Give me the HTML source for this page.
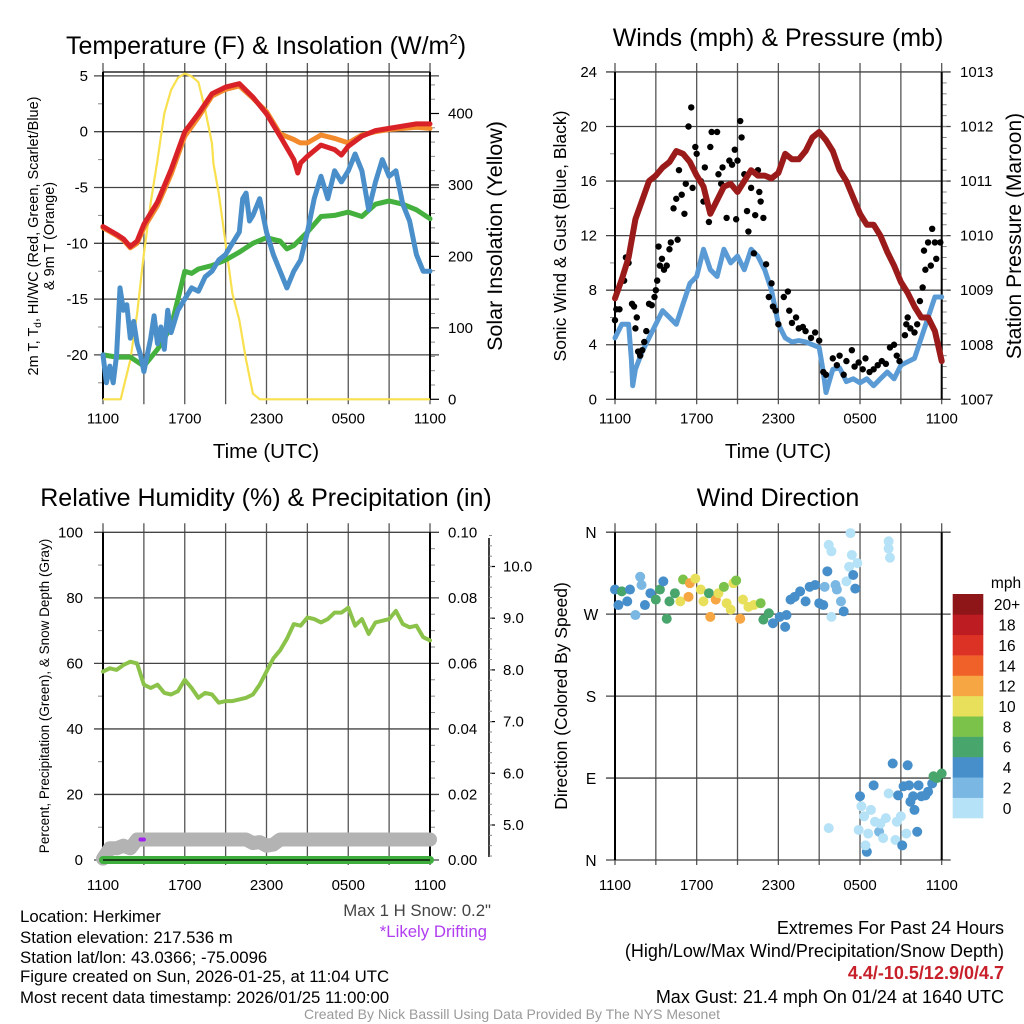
<!DOCTYPE html>
<html><head><meta charset="utf-8">
<style>
html,body{margin:0;padding:0;background:#fff;}
svg{display:block;font-family:"Liberation Sans",Arial,sans-serif;}
</style></head>
<body>
<svg id="fig" width="1024" height="1024" viewBox="0 0 1024 1024" xmlns="http://www.w3.org/2000/svg">
<g id="tl"></g>
<g id="tr"></g>
<g id="bl"></g>
<g id="br"></g>

<text x="266" y="54" font-size="25" text-anchor="middle">Temperature (F) &amp; Insolation (W/m<tspan font-size="15" dy="-10">2</tspan><tspan dy="10">)</tspan></text>
<text x="778" y="46" font-size="25" text-anchor="middle">Winds (mph) &amp; Pressure (mb)</text>
<text x="266" y="506" font-size="25" text-anchor="middle">Relative Humidity (%) &amp; Precipitation (in)</text>
<text x="778" y="506" font-size="25" text-anchor="middle">Wind Direction</text>

<text x="266" y="458" font-size="20.5" text-anchor="middle">Time (UTC)</text>
<text x="778" y="458" font-size="20.5" text-anchor="middle">Time (UTC)</text>

<g font-size="14.5" text-anchor="middle">
<text transform="translate(38,236) rotate(-90)">2m T, T<tspan font-size="10" dy="3">d</tspan><tspan dy="-3">, HI/WC (Red, Green, Scarlet/Blue)</tspan></text>
<text transform="translate(54,236) rotate(-90)">&amp; 9m T (Orange)</text>
</g>
<text transform="translate(502,236) rotate(-90)" font-size="21.5" text-anchor="middle">Solar Insolation (Yellow)</text>
<text transform="translate(566,236) rotate(-90)" font-size="17.5" text-anchor="middle">Sonic Wind &amp; Gust (Blue, Black)</text>
<text transform="translate(1021,236) rotate(-90)" font-size="21" text-anchor="middle">Station Pressure (Maroon)</text>
<text transform="translate(49,696) rotate(-90)" font-size="13.5" text-anchor="middle">Percent, Precipitation (Green), &amp; Snow Depth (Gray)</text>
<text transform="translate(567,696) rotate(-90)" font-size="17.5" text-anchor="middle">Direction (Colored By Speed)</text>

<g font-size="16.8">
<text x="20" y="922">Location: Herkimer</text>
<text x="20" y="943">Station elevation: 217.536 m</text>
<text x="20" y="963">Station lat/lon: 43.0366; -75.0096</text>
<text x="20" y="982">Figure created on Sun, 2026-01-25, at 11:04 UTC</text>
<text x="20" y="1003">Most recent data timestamp: 2026/01/25 11:00:00</text>
</g>
<text x="491" y="916" font-size="16.8" text-anchor="end" fill="#444">Max 1 H Snow: 0.2"</text>
<text x="487" y="937" font-size="16.8" text-anchor="end" fill="#b13ef0">*Likely Drifting</text>
<g font-size="18" text-anchor="end">
<text x="1004" y="934">Extremes For Past 24 Hours</text>
<text x="1004" y="957">(High/Low/Max Wind/Precipitation/Snow Depth)</text>
<text x="1004" y="979" fill="#c8202a" font-weight="bold">4.4/-10.5/12.9/0/4.7</text>
<text x="1004" y="1003">Max Gust: 21.4 mph On 01/24 at 1640 UTC</text>
</g>
<text x="512" y="1019" font-size="14" text-anchor="middle" fill="#9a9a9a">Created By Nick Bassill Using Data Provided By The NYS Mesonet</text>
</svg>
<script>
// ---------- DATA ----------
const xTickLabels = ["1100","1700","2300","0500","1100"];
const tHours = [0,1,1.5,2,2.5,3,4,5,6,7,8,9,10,11,12,13,14,14.3,14.5,15,16,17,17.5,18,19,20,21,22,23,24];
const tempRed = [-8.5,-9.2,-9.6,-10.3,-9.8,-8.3,-6.3,-3.4,0,1.6,3.4,4.0,4.3,3.1,1.6,-0.4,-2.5,-3.7,-2.8,-2.2,-1.2,-1.6,-2.1,-1.3,-0.4,0.1,0.3,0.5,0.7,0.7];
const temp9m = [-8.6,-9.3,-9.7,-10.4,-10.0,-8.6,-6.6,-3.8,-0.4,1.3,3.2,3.8,4.1,3.0,1.8,-0.2,-0.7,-0.9,-1.0,-1.0,-0.3,-0.6,-0.8,-1.0,-0.3,0.0,0.2,0.3,0.4,0.3];
const dHours = [0,1,2,3,4,5,5.5,6,6.5,7,8,9,10,11,12,13,13.5,14,15,16,17,18,19,20,21,22,23,24];
const dewpoint = [-20,-20.2,-20.2,-21,-19.5,-17.5,-15,-12.5,-12.7,-12.3,-12,-11.5,-10.8,-10,-9.5,-9.8,-10.5,-10.2,-9,-7.6,-7.5,-7.2,-7.6,-6.5,-6.2,-6.5,-7,-7.8];
const wcHours = [0,0.25,0.5,0.75,1,1.25,1.5,1.75,2,2.25,2.5,2.75,3,3.25,3.5,3.75,4,4.25,4.5,4.75,5,5.5,6,6.5,7,7.5,8,8.5,9,9.5,10,10.25,10.5,10.75,11,11.5,12,12.5,13,13.5,14,14.5,15,15.5,16,16.5,17,17.5,18,18.5,19,19.5,20,20.5,21,21.5,22,22.5,23,23.5,24];
const windChill = [-20,-22.5,-21,-22.5,-20,-14,-16,-15.5,-18.5,-17,-19,-20,-21.5,-20,-18.5,-16.5,-19,-17.5,-19.5,-16,-18,-16,-15,-14,-14.3,-13,-12.5,-11.5,-11,-10,-9,-6,-5.5,-8,-7.5,-6,-9,-11,-12.5,-14,-12.5,-11.5,-9,-6,-4,-6,-3.5,-4.5,-3.5,-2,-3.5,-7,-4.5,-2.5,-4,-3.5,-6.5,-8,-11,-12.5,-12.5];
const solarHours = [0,1.3,2,2.5,3,3.5,4,4.5,5,5.5,6,6.5,7,7.5,8,8.1,8.5,9,9.5,10,10.5,11,11.5,24];
const solar = [0,0,55,120,204,275,335,400,433,450,456,452,444,405,358,330,288,218,148,111,55,8,0,0];
const windHours = [0,0.5,1,1.2,1.3,1.5,2,2.5,3,3.5,4,4.5,5,5.5,6,6.5,7,7.5,8,8.5,9,9.5,10,10.5,11,11.5,12,12.5,13,13.5,14,14.5,15,15.3,15.5,16,16.5,17,17.5,18,18.5,19,19.5,20,20.5,21,22,22.5,23,23.5,24];
const windSpeed = [4.5,5.5,5.5,3,1,2.2,3.5,4.5,5.5,6.5,6,5.5,7,8.5,9,11,9.5,9,11,10,10.5,9.5,11,10.5,9.5,8,5.5,4.5,4.2,4.3,4.2,4,3.8,2,0.5,2.2,2.3,1.3,1.5,1.2,1.5,1,1.5,2,1.5,2.5,3,4.5,6,7.5,7.5];
const gustHours = [0,0.1,0.33,0.67,0.8,1,1.25,1.4,1.5,1.6,1.7,1.85,2,2.15,2.3,2.5,2.7,2.9,3,3.1,3.2,3.3,3.45,3.6,3.8,4,4.1,4.3,4.5,4.6,4.7,4.9,5.1,5.2,5.4,5.6,5.7,5.9,6,6.3,6.5,6.6,6.9,7,7.1,7.5,7.6,7.8,7.9,8.2,8.4,8.6,8.8,8.9,9,9.2,9.3,9.5,9.7,9.8,10,10.2,10.3,10.5,10.6,10.7,10.9,11.1,11.3,11.5,11.6,11.8,12,12.4,12.7,12.8,13,13.3,13.5,13.8,14,14.4,14.7,15,15.3,15.5,16,16.3,16.5,16.8,17,17.4,17.6,17.9,18.2,18.4,18.7,19,19.3,19.6,19.9,20.2,20.5,20.7,20.9,21.3,21.4,21.5,21.7,22,22.2,22.4,22.6,22.7,22.8,23,23.2,23.3,23.5,23.6,23.9];
const gustSpeed = [5.8,6.6,6.6,8.7,10.4,10,7,6.8,5.2,6,3.5,3.2,3.6,4.2,5,7,6.9,7.5,8,8.7,11.2,9.8,10.3,9.5,9.8,11,11.5,14,14.7,11.7,16.8,15,13.6,15.8,20,21.4,15.5,18.5,18,16,14.5,17,13,18.5,19.6,19.6,16.5,15.8,17,13.3,17.5,17.2,18.3,13.2,17.5,20.4,19.2,16.5,13.8,12.3,15.5,10.7,13.5,16.8,15.2,14.5,13.3,9.9,7.5,8.5,6.8,6.5,5.5,7.5,7.9,6.5,5.6,6,5.2,5.3,5,4.5,4.9,4.3,2,1.8,3,2.5,3.2,1.8,2.8,3.6,2.4,2.7,2.2,3,2,2.2,2.5,2.8,2.6,3.8,4,3.2,2.8,4.7,5.5,6,5.2,4.9,5.5,7.2,8.2,10.9,9.5,11.5,9.8,12.5,11.5,10.3,11.5];
const presHours = [0,0.5,1,1.5,2,2.5,3,3.5,4,4.5,5,5.5,6,6.5,7,7.5,8,8.5,9,9.5,10,10.5,11,11.5,12,12.5,13,13.5,14,14.5,15,15.5,16,16.5,17,17.5,18,18.5,19,19.5,20,20.5,21,21.5,22,22.5,23,23.5,24];
const pressure = [1008.85,1009.2,1009.6,1010.3,1010.65,1011.0,1011.1,1011.25,1011.35,1011.55,1011.5,1011.35,1011.1,1010.9,1010.4,1010.65,1010.9,1010.95,1010.8,1011.0,1011.2,1011.1,1011.1,1011.05,1011.15,1011.5,1011.4,1011.4,1011.55,1011.8,1011.9,1011.75,1011.55,1011.2,1011.0,1010.7,1010.4,1010.2,1010.2,1010.0,1009.7,1009.45,1009.15,1008.95,1008.7,1008.5,1008.5,1008.25,1007.7];
const rhHours = presHours;
const humidity = [57.5,58.5,58,59.5,60.5,60,53.5,52.5,53.5,51,50.5,51.5,55,52.5,49.5,51,50.5,48,48.5,48.5,49,49.5,50.5,53.5,57.5,61.5,64,67.5,72,71.5,74,73.5,72.5,73.5,75.5,75.5,77,71.5,73.5,69,72.5,73,73.5,76,72,71,71.5,68,67];
const precipHours = [0,24];
const precip = [0,0];
const snowHours = [0,0.5,1,1.5,2,2.5,10.5,11,11.5,12,12.5,13,24];
const snowDepth = [4.35,4.55,4.55,4.6,4.55,4.72,4.72,4.65,4.67,4.6,4.62,4.72,4.72];
const driftHours = [2.75,3.0];
const driftDepth = [4.72,4.72];
const dirHours = [0,0.25,0.5,0.9,1.1,1.85,1.5,1.95,2.2,2.6,3,3.3,3.55,3.8,4,4.4,4.8,5,5.4,5.5,5.9,6.3,6.5,6.9,7,7.4,7.6,8,8.2,8.5,8.7,8.9,9.2,9.4,9.8,10.2,10.7,10.9,11.3,11.6,12.1,12.5,12.6,12.9,13.2,13.6,14,14.3,14.7,15,15.3,15.4,15.6,15.9,15.7,15.9,16.2,16.3,16.6,16.8,17,17.2,17.3,17.4,17.5,17.65,17.8,20.1,20.1,20.2,15.7,17.9,18,18.1,18.3,18.5,18.4,18.6,18.8,19,19.1,19.4,19.5,19.7,19.9,20.1,20.4,20.6,20.7,20.8,21,21.1,21.2,21.4,21.5,21.6,21.7,21.9,22,22.2,22.3,22.5,22.8,23,23.3,23.4,23.65,24];
const direction = [297,280,295,284,297,311,269,302,280,293,286,297,306,265,284,293,284,308,289,304,309,297,284,293,267,286,293,300,282,275,304,307,265,286,278,280,282,264,271,260,267,256,269,286,289,295,284,300,302,282,280,300,317,267,346,339,302,297,284,273,306,322,359,335,313,298,326,350,342,332,35,33,70,59,48,9,16,29,55,82,42,31,40,24,46,73,106,22,42,71,48,16,81,29,104,82,64,70,55,31,82,70,71,75,84,92,90,95];
const dirSpeed = [4.5,4.5,6.5,4.5,4.5,2.5,2.5,2.5,4.5,4.5,6.5,6.5,4.5,6.5,6.5,7,10.5,8.5,12.5,12.5,10.5,10.5,10.5,6.5,12.5,12.5,10.5,8.5,10.5,10.5,10.5,8.5,12.5,10.5,10.5,10.5,8.5,6.5,6.5,4.5,4.5,4.5,4.5,4.5,4.5,4.5,4.5,4.5,4.5,4.5,4.5,2.5,4.5,1,1,1,2.5,2.5,2.5,4.5,1,1,1,1,4.5,4.5,1,1,1,1,1,1,4.5,1,1,4.5,1,1,1,4.5,1,3,1,1,1,1,4.5,1,1,4.5,1,4.5,4.5,1,4.5,4.5,4.5,4.5,4.5,4.5,4.5,4.5,4.5,4.5,4.5,6.5,6.5,6.5];
const speedBinLabels = ["0","2","4","6","8","10","12","14","16","18","20+"];
const speedBinColors = ["#b5e2f7","#7ab7e3","#478fca","#48a56c","#7bc24a","#e8e05a","#f6a643","#ef6128","#dc3125","#bd1c22","#8e1518"];

// ---------- HELPERS ----------
const NS = "http://www.w3.org/2000/svg";
function mk(parent, tag, attrs){ const e=document.createElementNS(NS,tag); for(const k in attrs) e.setAttribute(k,attrs[k]); parent.appendChild(e); return e; }
function txt(parent, x, y, s, size, anchor){ const t=mk(parent,"text",{x:x,y:y,"font-size":size,"text-anchor":anchor}); t.textContent=s; return t; }
function linePath(xs, ys, fx, fy){ return xs.map((h,i)=>(i?"L":"M")+fx(h).toFixed(1)+","+fy(ys[i]).toFixed(1)).join(""); }

function frame(g, x0, x1, yTop, yBot, name){
  const GX = h => x0 + h/24*(x1-x0);
  for(let h=0; h<=24; h+=3){
    const l = mk(g,"line",{x1:GX(h),x2:GX(h),y1:yTop-9,y2:yBot+5,stroke:"#555","stroke-width":1.3});
    
    
  }
  xTickLabels.forEach((s,i)=>{
    const t = txt(g, GX(i*6), yBot+(yBot>800?30:24), s, 15, "middle");
    
    
  });
  return GX;
}
function hgrid(g, x0, x1, y, name){
  const l = mk(g,"line",{x1:x0-9,x2:x1+9,y1:y,y2:y,stroke:"#444","stroke-width":1.3});
  
  
}
function minor(g, x, y, len){
  const l = mk(g,"line",{x1:x,x2:x+len,y1:y,y2:y,stroke:"#888","stroke-width":1});
  
  
}
function border(g,x0,x1,yT,yB){
  mk(g,"line",{x1:x0,x2:x0,y1:yT,y2:yB,stroke:"#000","stroke-width":2});
  mk(g,"line",{x1:x1,x2:x1,y1:yT,y2:yB,stroke:"#000","stroke-width":2});
}

// ---------- TEMPERATURE PANEL ----------
(function(){
  const g=document.getElementById("tl");
  const x0=103,x1=430,yTop=72,yBot=399.3;
  const X=frame(g,x0,x1,yTop,yBot,"temp");
  const YT=v=>131.7-v*11.16, YS=s=>399.3-s*0.7145;
  mk(g,"line",{x1:x0,x2:x1,y1:yTop,y2:yTop,stroke:"#000","stroke-width":1.3});
  [5,0,-5,-10,-15,-20].forEach(v=>{ hgrid(g,x0,x1,YT(v),"temp-hgrid");
    const t=txt(g,88,YT(v)+5,String(v),15,"end");
    
     });
  for(let v=-22.5; v<=5; v+=5) minor(g,x0-5,YT(v),5);
  [0,100,200,300,400].forEach(v=>{ const t=txt(g,448,YS(v)+5,String(v),15,"start");
    
    
    mk(g,"line",{x1:x1,x2:x1+9,y1:YS(v),y2:YS(v),stroke:"#000","stroke-width":1.2}); });
  for(let v=20; v<=450; v+=20) if(v%100) minor(g,x1,YS(v),5);
  border(g,x0,x1,yTop,yBot);
  const s=mk(g,"path",{d:linePath(solarHours,solar,X,YS),fill:"none",stroke:"#f9e04e","stroke-width":2.2,"stroke-linejoin":"round"});
   
  const d=mk(g,"path",{d:linePath(dHours,dewpoint,X,YT),fill:"none",stroke:"#44b13f","stroke-width":5,"stroke-linejoin":"round","stroke-linecap":"round"});
   
  const w=mk(g,"path",{d:linePath(wcHours,windChill,X,YT),fill:"none",stroke:"#4a8fc9","stroke-width":5,"stroke-linejoin":"round","stroke-linecap":"round"});
   
  const o=mk(g,"path",{d:linePath(tHours,temp9m,X,YT),fill:"none",stroke:"#f38a2c","stroke-width":5,"stroke-linejoin":"round","stroke-linecap":"round"});
   
  const r=mk(g,"path",{d:linePath(tHours,tempRed,X,YT),fill:"none",stroke:"#d92228","stroke-width":5,"stroke-linejoin":"round","stroke-linecap":"round"});
   
})();

// ---------- WIND PANEL ----------
(function(){
  const g=document.getElementById("tr");
  const x0=615,x1=941.7,yTop=72,yBot=399.3;
  const X=frame(g,x0,x1,yTop,yBot,"wind");
  const YW=v=>399.3-v*13.64, YP=p=>399.3-(p-1007)*54.55;
  [0,4,8,12,16,20,24].forEach(v=>{ hgrid(g,x0,x1,YW(v),"wind-hgrid");
    const t=txt(g,597,YW(v)+5,String(v),15,"end");
    
     });
  for(let v=2; v<24; v+=4) minor(g,x0-5,YW(v),5);
  [1007,1008,1009,1010,1011,1012,1013].forEach(v=>{ const t=txt(g,960,YP(v)+5,String(v),15,"start");
    
     });
  for(let v=1007.2; v<1013; v+=0.2) minor(g,x1,YP(v),5);
  border(g,x0,x1,yTop,yBot);
  const w=mk(g,"path",{d:linePath(windHours,windSpeed,X,YW),fill:"none",stroke:"#5b9bd5","stroke-width":5,"stroke-linejoin":"round","stroke-linecap":"round"});
   
  gustHours.forEach((h,i)=>{
    const c=mk(g,"circle",{cx:X(h),cy:YW(gustSpeed[i]),r:3.2,fill:"#000"});
    
    
  });
  const p=mk(g,"path",{d:linePath(presHours,pressure,X,YP),fill:"none",stroke:"#9b1b1b","stroke-width":6,"stroke-linejoin":"round","stroke-linecap":"round"});
   
})();

// ---------- HUMIDITY PANEL ----------
(function(){
  const g=document.getElementById("bl");
  const x0=103,x1=430,yTop=532.3,yBot=860;
  const X=frame(g,x0,x1,yTop,yBot,"rh");
  const YR=v=>860-v*3.277, YPr=p=>860-p*3277, YSn=s=>825-(s-5)*51.7;
  [0,20,40,60,80,100].forEach(v=>{ hgrid(g,x0,x1,YR(v),"rh-hgrid");
    const t=txt(g,83,YR(v)+5,String(v),15,"end");
    
     });
  for(let v=10; v<100; v+=20) minor(g,x0-5,YR(v),5);
  ["0.00","0.02","0.04","0.06","0.08","0.10"].forEach(s=>{ const t=txt(g,448,YPr(+s)+5,s,15,"start");
    
     });
  for(let v=0.005; v<0.1; v+=0.005) if(Math.round(v*1000)%20) minor(g,x1,YPr(v),5);
  const ax=mk(g,"line",{x1:489,x2:489,y1:538,y2:857,stroke:"#000","stroke-width":1.5});
   
  ["5.0","6.0","7.0","8.0","9.0","10.0"].forEach(s=>{ const y=YSn(+s);
    mk(g,"line",{x1:489,x2:495,y1:y,y2:y,stroke:"#000","stroke-width":1.2});
    const t=txt(g,503,y+5,s,15,"start");
    
     });
  for(let v=4.4; v<10.6; v+=0.2) minor(g,489,YSn(v),3);
  border(g,x0,x1,yTop,yBot);
  const sn=mk(g,"path",{d:linePath(snowHours,snowDepth,X,YSn),fill:"none",stroke:"#b3b3b3","stroke-width":14,"stroke-linejoin":"round","stroke-linecap":"round"});
   
  const dr=mk(g,"path",{d:linePath(driftHours,driftDepth,X,YSn),fill:"none",stroke:"#a020f0","stroke-width":4,"stroke-linecap":"round"});
   
  const pr=mk(g,"path",{d:linePath(precipHours,precip,X,YPr),fill:"none",stroke:"#3fae3f","stroke-width":8,"stroke-linecap":"round"});
   
  mk(g,"line",{x1:x0,x2:x1,y1:yBot,y2:yBot,stroke:"#000","stroke-width":1.2});
  const rh=mk(g,"path",{d:linePath(rhHours,humidity,X,YR),fill:"none",stroke:"#8bc34a","stroke-width":4,"stroke-linejoin":"round","stroke-linecap":"round"});
   
})();

// ---------- WIND DIRECTION PANEL ----------
(function(){
  const g=document.getElementById("br");
  const x0=615,x1=941.7,yTop=532.3,yBot=860;
  const X=frame(g,x0,x1,yTop,yBot,"dir");
  const YD=d=>860-d*0.9106;
  [[0,"N"],[90,"E"],[180,"S"],[270,"W"],[360,"N"]].forEach(([v,s])=>{ hgrid(g,x0,x1,YD(v),"dir-hgrid");
    const t=txt(g,591,YD(v)+6,s,15.5,"middle");
    
     });
  border(g,x0,x1,yTop,yBot);
  dirHours.forEach((h,i)=>{
    const bin=Math.min(10,Math.floor(dirSpeed[i]/2));
    const c=mk(g,"circle",{cx:X(h),cy:YD(direction[i]),r:5,fill:speedBinColors[bin]});
    
    
  });
  const bh=(818-594)/11;
  speedBinColors.forEach((col,i)=>{
    const y=818-(i+1)*bh;
    const r=mk(g,"rect",{x:952.7,y:y,width:30.6,height:bh+0.3,fill:col});
    
    
    const t=txt(g,1007,y+bh/2+6,speedBinLabels[i],15.5,"middle");
    
    
  });
  const u=txt(g,1006,588,"mph",15.5,"middle");
  
  
})();
</script>
</body></html>
